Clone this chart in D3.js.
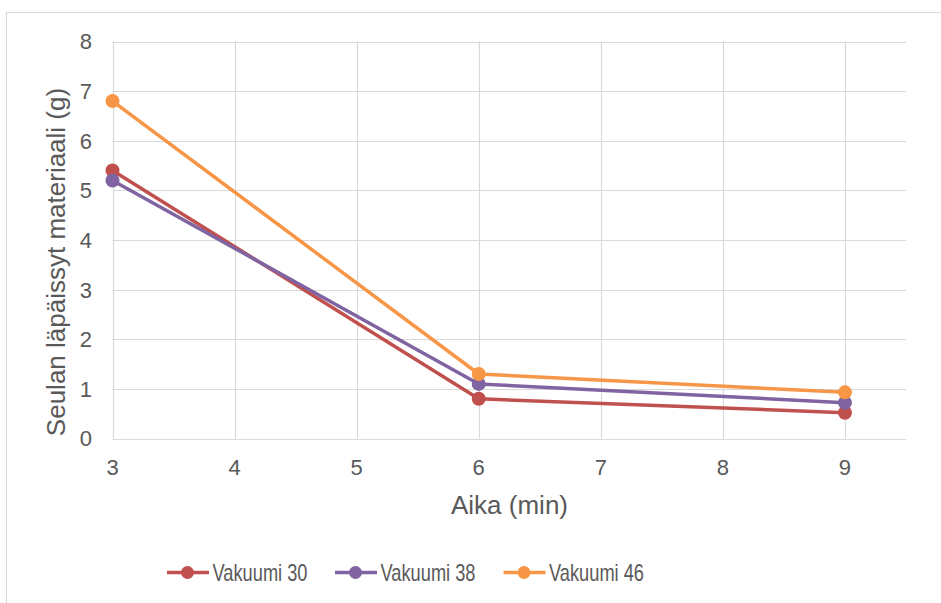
<!DOCTYPE html>
<html>
<head>
<meta charset="utf-8">
<script src="https://cdn.jsdelivr.net/npm/d3@7"></script>
<style>
  html, body { margin: 0; padding: 0; background: #fff; }
  svg { display: block; font-family: "Liberation Sans", Arial, sans-serif; }
</style>
</head>
<body>
<svg id="chart" width="941" height="603"></svg>
<script>
// Time points (min)
const times = [3, 6, 9];
// Material passed through the sieve (g) per vacuum level
const vakuumi30 = [5.4, 0.8, 0.52];
const vakuumi38 = [5.2, 1.1, 0.72];
const vakuumi46 = [6.8, 1.3, 0.93];
const seriesNames = ["Vakuumi 30", "Vakuumi 38", "Vakuumi 46"];
const seriesColors = ["#C0504D", "#8064A2", "#F79646"];
const xTicks = [3, 4, 5, 6, 7, 8, 9];
const yTicks = [0, 1, 2, 3, 4, 5, 6, 7, 8];

const series = [vakuumi30, vakuumi38, vakuumi46].map((vals, i) => ({
  name: seriesNames[i],
  color: seriesColors[i],
  points: times.map((t, j) => ({ x: t, y: vals[j] }))
}));

const svg = d3.select("#chart");
const textColor = "#595959";
const gridColor = "#D9D9D9";

// Chart frame
svg.append("rect")
  .attr("x", 6.5).attr("y", 12.5)
  .attr("width", 960).attr("height", 620)
  .attr("fill", "#fff").attr("stroke", gridColor).attr("stroke-width", 1);

const x = d3.scaleLinear().domain([3, 9.5]).range([112.5, 906]);
const y = d3.scaleLinear().domain([0, 8]).range([438.5, 41.5]);

// Horizontal grid
svg.append("g").selectAll("line").data(yTicks).join("line")
  .attr("x1", x(3)).attr("x2", x(9.5))
  .attr("y1", d => Math.round(y(d)) + 0.5).attr("y2", d => Math.round(y(d)) + 0.5)
  .attr("stroke", gridColor).attr("stroke-width", 1.2);

// Vertical grid
svg.append("g").selectAll("line").data(xTicks).join("line")
  .attr("x1", d => Math.round(x(d)) + 0.5).attr("x2", d => Math.round(x(d)) + 0.5)
  .attr("y1", y(8)).attr("y2", y(0))
  .attr("stroke", gridColor).attr("stroke-width", 1.2);

// Y axis labels
svg.append("g").selectAll("text").data(yTicks).join("text")
  .attr("x", 92).attr("y", d => y(d))
  .attr("dy", "0.36em")
  .attr("text-anchor", "end")
  .attr("fill", textColor).attr("font-size", 22)
  .text(d => d);

// X axis labels
svg.append("g").selectAll("text").data(xTicks).join("text")
  .attr("x", d => x(d)).attr("y", 475)
  .attr("text-anchor", "middle")
  .attr("fill", textColor).attr("font-size", 22)
  .text(d => d);

// Axis titles
svg.append("text")
  .attr("x", 509.5).attr("y", 514)
  .attr("text-anchor", "middle")
  .attr("fill", textColor).attr("font-size", 26)
  .text("Aika (min)");

svg.append("text")
  .attr("transform", "translate(65, 262) rotate(-90)")
  .attr("text-anchor", "middle")
  .attr("fill", textColor).attr("font-size", 26)
  .text("Seulan läpäissyt materiaali (g)");

// Lines and markers
const line = d3.line().x(d => x(d.x)).y(d => y(d.y));
const g = svg.append("g");
series.forEach(s => {
  g.append("path")
    .datum(s.points)
    .attr("d", line)
    .attr("fill", "none")
    .attr("stroke", s.color)
    .attr("stroke-width", 3.5)
    .attr("stroke-linejoin", "round");
  g.selectAll(null).data(s.points).join("circle")
    .attr("cx", d => x(d.x)).attr("cy", d => y(d.y))
    .attr("r", 7)
    .attr("fill", s.color);
});

// Legend
const legendX = [167, 335, 503.5];
const legendY = 572.5;
const legend = svg.append("g");
series.forEach((s, i) => {
  const lg = legend.append("g").attr("transform", `translate(${legendX[i]}, ${legendY})`);
  lg.append("line").attr("x1", 0).attr("x2", 42).attr("y1", 0).attr("y2", 0)
    .attr("stroke", s.color).attr("stroke-width", 3.5);
  lg.append("circle").attr("cx", 20.5).attr("cy", 0).attr("r", 6.5).attr("fill", s.color);
  lg.append("text").attr("x", 45.5).attr("y", 8.5)
    .attr("fill", textColor).attr("font-size", 24)
    .attr("textLength", 95).attr("lengthAdjust", "spacingAndGlyphs")
    .text(s.name);
});
</script>
</body>
</html>
